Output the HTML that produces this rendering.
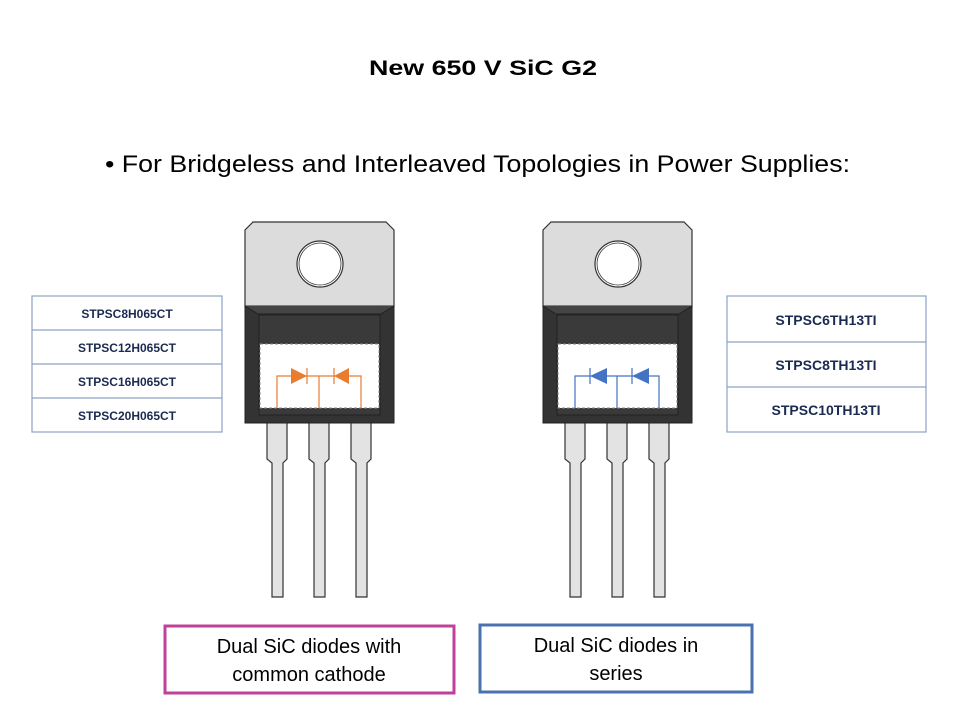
<!DOCTYPE html>
<html><head><meta charset="utf-8"><style>
html,body{margin:0;padding:0;background:#fff;}
svg{display:block;font-family:"Liberation Sans",Arial,sans-serif;}
</style></head><body>
<svg width="960" height="720" viewBox="0 0 960 720" xmlns="http://www.w3.org/2000/svg">
<text x="369" y="75" font-size="21" font-weight="bold" textLength="228" lengthAdjust="spacingAndGlyphs">New 650 V SiC G2</text>
<text x="105" y="172" font-size="24" textLength="745" lengthAdjust="spacingAndGlyphs">• For Bridgeless and Interleaved Topologies in Power Supplies:</text>

<defs>
<g id="pkg">
  <g fill="#e3e3e3" stroke="#333" stroke-width="1.2">
    <path d="M267 420 H287 V459 L283 463 V597 H272 V463 L267 459 Z"/>
    <path d="M309 420 H329 V459 L325 463 V597 H314 V463 L309 459 Z"/>
    <path d="M351 420 H371 V459 L367 463 V597 H356 V463 L351 459 Z"/>
  </g>
  <path d="M253 222 H386 L394 230 V307 H245 V230 Z" fill="#dcdcdc" stroke="#333" stroke-width="1.2"/>
  <circle cx="320" cy="264" r="23" fill="#fff" stroke="#333" stroke-width="1.2"/>
  <circle cx="320" cy="264" r="21" fill="none" stroke="#333" stroke-width="0.8"/>
  <rect x="245" y="306" width="149" height="117" fill="#333" stroke="#222"/>
  <path d="M245 306 L258 314 H381 L394 306" fill="#444" stroke="#222"/>
  <rect x="259" y="315" width="121" height="100" fill="#3a3a3a" stroke="#222"/>
  <rect x="260" y="344" width="119" height="64" fill="#fff" stroke="#888" stroke-dasharray="3,2"/>
</g>
</defs>

<use href="#pkg"/>
<use href="#pkg" transform="translate(298,0)"/>

<g stroke="#e87d2f" stroke-width="1.2" fill="none">
  <path d="M277 408 V376 H361 V408 M319 376 V408"/>
  <path d="M307 368 V384 M334 368 V384"/>
</g>
<g fill="#e87d2f">
  <path d="M291 368 L307 376 L291 384 Z"/>
  <path d="M349 368 L334 376 L349 384 Z"/>
</g>
<g stroke="#4472c4" stroke-width="1.2" fill="none">
  <path d="M575 408 V376 H659 V408 M617 376 V408"/>
  <path d="M590 368 V384 M632 368 V384"/>
</g>
<g fill="#4472c4">
  <path d="M607 368 L590 376 L607 384 Z"/>
  <path d="M649 368 L632 376 L649 384 Z"/>
</g>

<g fill="#fff" stroke="#8ea3c4" stroke-width="1.2">
  <rect x="32" y="296" width="190" height="136"/>
  <path d="M32 330 H222 M32 364 H222 M32 398 H222"/>
</g>
<g font-weight="bold" font-size="12" fill="#1a2a50" text-anchor="middle">
  <text x="127" y="318">STPSC8H065CT</text>
  <text x="127" y="352">STPSC12H065CT</text>
  <text x="127" y="386">STPSC16H065CT</text>
  <text x="127" y="420">STPSC20H065CT</text>
</g>
<g fill="#fff" stroke="#8ea3c4" stroke-width="1.2">
  <rect x="727" y="296" width="199" height="136"/>
  <path d="M727 342 H926 M727 387 H926"/>
</g>
<g font-weight="bold" font-size="14" fill="#1a2a50" text-anchor="middle">
  <text x="826" y="325">STPSC6TH13TI</text>
  <text x="826" y="370">STPSC8TH13TI</text>
  <text x="826" y="415">STPSC10TH13TI</text>
</g>

<rect x="165" y="626" width="289" height="67" fill="#fff" stroke="#c0409a" stroke-width="3"/>
<text x="309" y="653" text-anchor="middle" font-size="20">Dual SiC diodes with</text>
<text x="309" y="681" text-anchor="middle" font-size="20">common cathode</text>
<rect x="480" y="625" width="272" height="67" fill="#fff" stroke="#4a72b0" stroke-width="3"/>
<text x="616" y="652" text-anchor="middle" font-size="20">Dual SiC diodes in</text>
<text x="616" y="680" text-anchor="middle" font-size="20">series</text>
</svg>
</body></html>
